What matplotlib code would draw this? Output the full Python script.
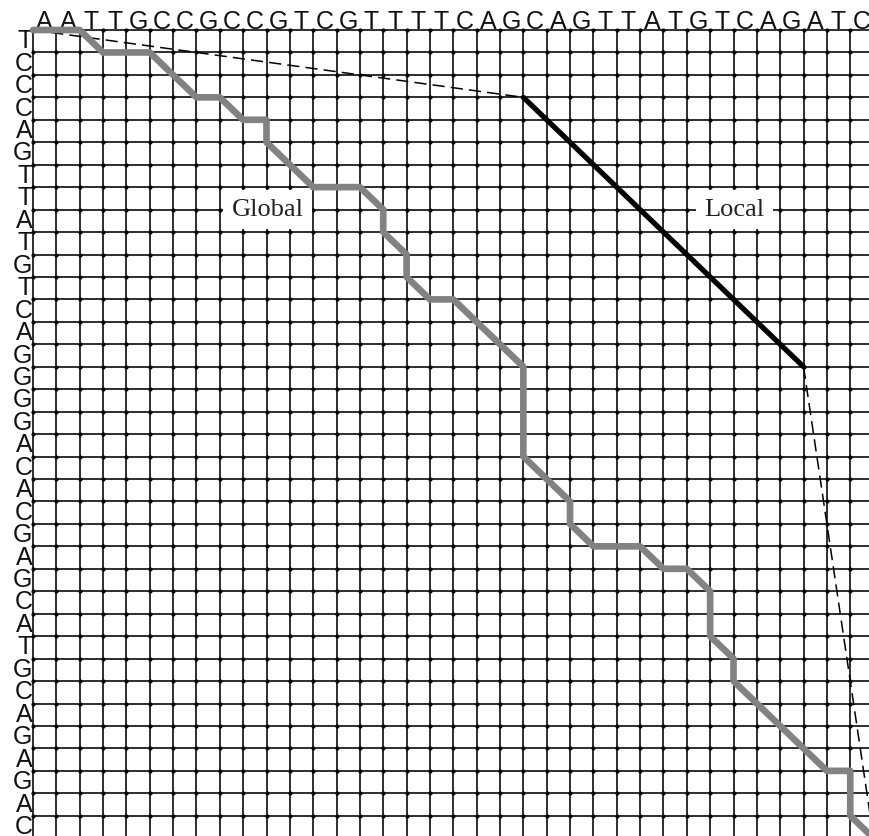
import matplotlib
matplotlib.use("Agg")
import matplotlib.pyplot as plt
import numpy as np

# sequences along the top (columns) and the left side (rows)
top_seq = list("AATTGCCGCCGTCGTTTTCAGCAGTTATGTCAGATC")
left_seq = list("TCCCAGTTATGTCAGGGGACACGAGCATGCAGAGAC")

# global alignment path (column, row) at grid nodes
global_cols = [0, 2, 3, 5, 7, 8, 9, 10, 10, 12, 14, 15, 15, 16, 16, 17, 18, 21,
               21, 23, 23, 24, 26, 27, 28, 29, 29, 30, 30, 34, 35, 35, 36]
global_rows = [0, 0, 1, 1, 3, 3, 4, 4, 5, 7, 7, 8, 9, 10, 11, 12, 12, 15,
               19, 21, 22, 23, 23, 24, 24, 25, 27, 28, 29, 33, 33, 35, 36]

# local alignment segment
local_cols = [21, 33]
local_rows = [3, 15]

# dashed connectors (corner to local start, local end to corner)
dash_a_cols = [0, 21]
dash_a_rows = [0, 3]
dash_b_cols = [33, 36]
dash_b_rows = [15, 36]

# labels
label_text = ["Global", "Local"]
label_cols = [10.05, 30.05]
label_rows = [8.0, 8.0]

n_cols = len(top_seq)
n_rows = len(left_seq)

fig = plt.figure(figsize=(8.69, 8.36), dpi=100)
ax = fig.add_axes([0, 0, 1, 1])
ax.set_xlim(-33 / 23.35, (869 - 33) / 23.35)
ax.set_ylim((836 - 30) / 22.45, -30 / 22.45)
ax.axis("off")

# grid
grid_kw = dict(color="#1e1e1e", lw=1.3, zorder=1, solid_capstyle="butt")
for i in range(n_cols + 1):
    ax.plot([i, i], [0, n_rows], **grid_kw)
for j in range(n_rows + 1):
    ax.plot([0, n_cols], [j, j], **grid_kw)
gx, gy = np.meshgrid(np.arange(n_cols + 1), np.arange(n_rows + 1))
ax.scatter(gx.ravel(), gy.ravel(), s=9, color="black", zorder=2, linewidths=0)

# sequence letters
for i, ch in enumerate(top_seq):
    ax.text(i + 0.5, -0.06, ch, ha="center", va="baseline", fontsize=18,
            family="Liberation Sans", color="#111111")
for j, ch in enumerate(left_seq):
    ax.text(-0.03, j + 0.5, ch, ha="right", va="center", fontsize=18,
            family="Liberation Sans", color="#111111")

# paths
ax.plot(dash_a_cols, dash_a_rows, color="black", lw=1.1, ls=(0, (8, 4)), zorder=3)
ax.plot(dash_b_cols, dash_b_rows, color="black", lw=1.1, ls=(0, (8, 4)), zorder=3)
ax.plot(global_cols, global_rows, color="#828282", lw=4.8, zorder=4,
        solid_joinstyle="round", solid_capstyle="round")
ax.plot(local_cols, local_rows, color="black", lw=3.8, zorder=4,
        solid_capstyle="round")

for t, c, r in zip(label_text, label_cols, label_rows):
    ax.text(c, r, t, ha="center", va="center", fontsize=19,
            family="Liberation Serif", color="#222222", zorder=5,
            bbox=dict(facecolor="white", edgecolor="none", pad=6))

fig.savefig("out.png", dpi=100)
